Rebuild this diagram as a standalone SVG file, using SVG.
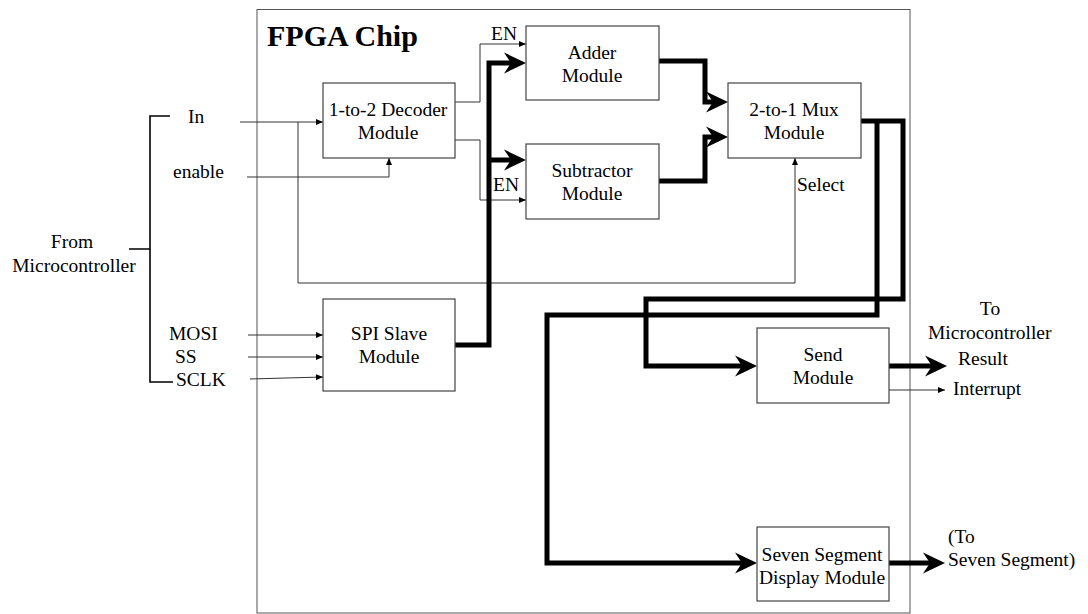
<svg xmlns="http://www.w3.org/2000/svg" width="1088" height="614" viewBox="0 0 1088 614">
<style>
text{font-family:"Liberation Serif","Times New Roman",serif;font-size:19.5px;fill:#000}
.c{text-anchor:middle}
.box{fill:#fff;stroke:#444;stroke-width:1.2}
.thin{fill:none;stroke:#333;stroke-width:1}
.thick{fill:none;stroke:#000;stroke-width:5;stroke-linejoin:miter}
</style>
<defs>
<marker id="sa" markerUnits="userSpaceOnUse" markerWidth="8" markerHeight="7" refX="7" refY="3" orient="auto" overflow="visible">
<path d="M0,0 L7,3 L0,6 Z" fill="#000"/>
</marker>
<marker id="ba" markerUnits="userSpaceOnUse" markerWidth="23" markerHeight="23" refX="7" refY="10.5" orient="auto" overflow="visible">
<path d="M0,0 L22,10.5 L0,21 L7,10.5 Z" fill="#000"/>
</marker>
</defs>
<rect x="0" y="0" width="1088" height="614" fill="#fff"/>
<g id="chip">
<rect x="257" y="9.5" width="653" height="603.5" fill="none" stroke="#555" stroke-width="1"/>
<text x="267" y="46" style="font-size:30px;font-weight:bold">FPGA Chip</text>
</g>
<g id="connectors">
<path class="thin" d="M240,122 H323" marker-end="url(#sa)"/>
<path class="thin" d="M298,122 V283 H795 V158" marker-end="url(#sa)"/>
<path class="thin" d="M247,177 H389 V158" marker-end="url(#sa)"/>
<path class="thin" d="M455,102 H480 V44 H526" marker-end="url(#sa)"/>
<path class="thin" d="M455,140 H480 V200 H526" marker-end="url(#sa)"/>
<path class="thin" d="M248,335 H323" marker-end="url(#sa)"/>
<path class="thin" d="M248,357 H323" marker-end="url(#sa)"/>
<path class="thin" d="M250,379 L323,377" marker-end="url(#sa)"/>
<path class="thin" d="M889,390 H945" marker-end="url(#sa)"/>
<path class="thick" d="M455,345 H489 V63 H511" marker-end="url(#ba)"/>
<path class="thick" d="M489,160 H511" marker-end="url(#ba)"/>
<path class="thick" d="M659,61 H705 V102 H713" marker-end="url(#ba)"/>
<path class="thick" d="M659,181 H705 V137 H713" marker-end="url(#ba)"/>
<path class="thick" d="M861,121 H903 V299 H646 V366 H742" marker-end="url(#ba)"/>
<path class="thick" d="M877,121 V315 H547 V563 H742" marker-end="url(#ba)"/>
<path class="thick" d="M889,366 H932" marker-end="url(#ba)"/>
<path class="thick" d="M889,563 H930" marker-end="url(#ba)"/>
<path d="M170,116 H150 V382 H173 M129,249 H150" fill="none" stroke="#000" stroke-width="1.6"/>
</g>
<g id="decoder">
<rect class="box" x="323" y="83" width="132" height="75"/>
<text class="c" x="388" y="116">1-to-2 Decoder</text>
<text class="c" x="388" y="139">Module</text>
</g>
<g id="adder">
<rect class="box" x="526" y="26" width="133" height="74"/>
<text class="c" x="592" y="59">Adder</text>
<text class="c" x="592" y="82">Module</text>
</g>
<g id="subtractor">
<rect class="box" x="526" y="144" width="133" height="75"/>
<text class="c" x="592" y="177">Subtractor</text>
<text class="c" x="592" y="200">Module</text>
</g>
<g id="mux">
<rect class="box" x="728" y="83" width="133" height="75"/>
<text class="c" x="794" y="116">2-to-1 Mux</text>
<text class="c" x="794" y="139">Module</text>
</g>
<g id="spi">
<rect class="box" x="323" y="299" width="132" height="92"/>
<text class="c" x="389" y="340">SPI Slave</text>
<text class="c" x="389" y="363">Module</text>
</g>
<g id="send">
<rect class="box" x="757" y="328" width="132" height="75"/>
<text class="c" x="823" y="361">Send</text>
<text class="c" x="823" y="384">Module</text>
</g>
<g id="sevenseg">
<rect class="box" x="757" y="527" width="132" height="74"/>
<text class="c" x="822" y="561">Seven Segment</text>
<text class="c" x="822" y="584">Display Module</text>
</g>
<g id="labels">
<text x="491" y="40">EN</text>
<text x="493" y="191">EN</text>
<text x="797" y="191">Select</text>
<text x="188" y="123">In</text>
<text x="173" y="178">enable</text>
<text class="c" x="72" y="248">From</text>
<text class="c" x="74" y="272">Microcontroller</text>
<text x="169" y="340">MOSI</text>
<text x="175" y="363">SS</text>
<text x="176" y="386">SCLK</text>
<text class="c" x="990" y="315">To</text>
<text x="928" y="339">Microcontroller</text>
<text x="958" y="365">Result</text>
<text x="953" y="395">Interrupt</text>
<text x="948" y="543">(To</text>
<text x="948" y="566">Seven Segment)</text>
</g>
</svg>
